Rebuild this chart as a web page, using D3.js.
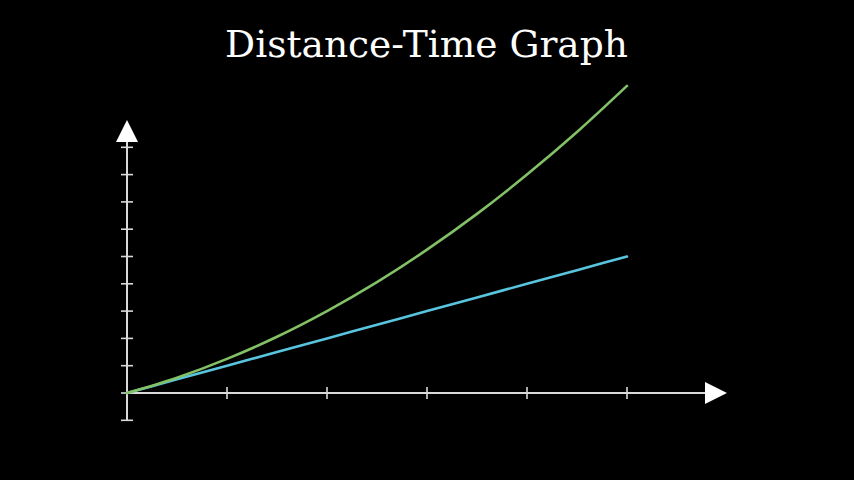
<!DOCTYPE html>
<html>
<head>
<meta charset="utf-8">
<script src="https://cdn.jsdelivr.net/npm/d3@7"></script>
<style>
  html, body { margin: 0; padding: 0; background: #000; }
  svg { display: block; }
</style>
</head>
<body>
<svg id="chart" width="854" height="480"></svg>
<script>
// ---- data ----
const title = "Distance-Time Graph";
const times = [0, 0.5, 1, 1.5, 2, 2.5, 3, 3.5, 4, 4.5, 5];
const uniformDistance = [0, 0.5, 1, 1.5, 2, 2.5, 3, 3.5, 4, 4.5, 5];
const acceleratedDistance = [0, 0.56, 1.25, 2.06, 3, 4.06, 5.25, 6.56, 8, 9.56, 11.25];
const xTicks = [1, 2, 3, 4, 5];
const yTicks = [-1, 0, 1, 2, 3, 4, 5, 6, 7, 8, 9];
const xDomain = [0, 6];
const yDomain = [-1, 10];

// ---- layout ----
const svg = d3.select("#chart");
svg.append("rect").attr("width", 854).attr("height", 480).attr("fill", "#000");

const x = d3.scaleLinear().domain([0, 5]).range([127, 627]);
const y = d3.scaleLinear().domain([0, 10]).range([393, 120]);

const axisColor = "#d9d9d9";
const g = svg.append("g");

// x axis line
g.append("line")
  .attr("x1", x(xDomain[0])).attr("x2", x(xDomain[1]) - 21)
  .attr("y1", y(0)).attr("y2", y(0))
  .attr("stroke", axisColor).attr("stroke-width", 2);
// y axis line
g.append("line")
  .attr("x1", x(0)).attr("x2", x(0))
  .attr("y1", y(yDomain[0])).attr("y2", y(yDomain[1]) + 21)
  .attr("stroke", axisColor).attr("stroke-width", 2);

// ticks
g.selectAll(".xt").data(xTicks).join("line")
  .attr("x1", d => x(d)).attr("x2", d => x(d))
  .attr("y1", y(0) - 6).attr("y2", y(0) + 6)
  .attr("stroke", axisColor).attr("stroke-width", 1.6);
g.selectAll(".yt").data(yTicks).join("line")
  .attr("x1", x(0) - 6).attr("x2", x(0) + 6)
  .attr("y1", d => y(d)).attr("y2", d => y(d))
  .attr("stroke", axisColor).attr("stroke-width", 1.6);

// arrows
const tipX = x(xDomain[1]), tipY = y(yDomain[1]);
g.append("path")
  .attr("d", `M${tipX},${y(0)} L${tipX - 22},${y(0) - 11} L${tipX - 22},${y(0) + 11} Z`)
  .attr("fill", "#fff");
g.append("path")
  .attr("d", `M${x(0)},${tipY} L${x(0) - 11},${tipY + 22} L${x(0) + 11},${tipY + 22} Z`)
  .attr("fill", "#fff");

// lines
const lineGen = vals => d3.line()
  .x((d, i) => x(times[i]))
  .y(d => y(d))
  .curve(d3.curveMonotoneX)(vals);

svg.append("path").attr("d", lineGen(uniformDistance))
  .attr("fill", "none").attr("stroke", "#58C4DD").attr("stroke-width", 2.6)
  .attr("stroke-linecap", "round");
svg.append("path").attr("d", lineGen(acceleratedDistance))
  .attr("fill", "none").attr("stroke", "#83C167").attr("stroke-width", 2.6)
  .attr("stroke-linecap", "round");

// title
const t = svg.append("text")
  .attr("x", 426.5).attr("y", 57)
  .attr("text-anchor", "middle")
  .attr("fill", "#fff")
  .attr("font-family", "'DejaVu Serif', serif")
  .attr("font-size", 100)
  .text(title);
const w = t.node().getComputedTextLength();
t.attr("font-size", 100 * 403 / w);
</script>
</body>
</html>
